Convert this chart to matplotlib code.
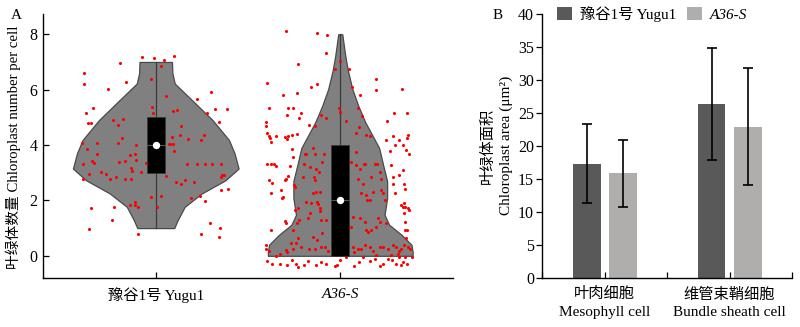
import matplotlib
matplotlib.use("Agg")
import matplotlib.pyplot as plt
from matplotlib.patches import Rectangle

plt.rcParams['font.family'] = ['Liberation Serif', 'Noto Sans CJK SC']
plt.rcParams['font.size'] = 10.5

# ---------------- Panel A: chloroplast number per cell ----------------
genotypes = ['豫谷1号 Yugu1', 'A36-S']

# individual cells (jitter offset, count)
yugu_x = [-0.076, -0.007, 0.047, 0.099, 0.027, -0.196, -0.391, -0.391, -0.259, -0.160,
          0.301, 0.225, -0.027, 0.056, -0.378, -0.342, -0.368, -0.351, -0.229, -0.175,
          -0.207, -0.022, -0.014, 0.114, 0.095, 0.276, 0.321, 0.386, 0.344, 0.261,
          0.177, 0.247, 0.135, 0.133, 0.086, 0.077, 0.095, 0.099, 0.070, -0.400,
          -0.371, -0.317, -0.346, -0.319, -0.393, -0.333, -0.184, -0.207, -0.106, -0.114,
          -0.137, -0.108, -0.164, -0.133, -0.130, -0.054, -0.079, -0.135, -0.169, -0.214,
          -0.295, -0.267, -0.249, -0.360, -0.396, 0.168, 0.225, 0.265, 0.306, 0.353,
          0.360, 0.353, 0.368, 0.351, 0.393, 0.159, 0.110, 0.054, 0.209, 0.137,
          0.189, 0.238, 0.265, 0.031, -0.025, 0.005, -0.142, -0.115, -0.097, -0.112,
          -0.227, -0.236, -0.350, -0.364, -0.097, 0.247, 0.294, 0.350, 0.342, -0.200]
yugu_y = [7.18, 7.16, 7.06, 7.21, 6.87, 6.98, 6.61, 6.19, 6.03, 6.26,
          5.92, 5.66, 6.37, 5.78, 5.17, 5.35, 4.78, 4.78, 4.90, 4.95,
          4.71, 5.38, 5.14, 5.26, 5.22, 5.14, 5.29, 5.29, 4.83, 4.36,
          4.20, 4.18, 4.68, 4.36, 4.30, 4.02, 4.02, 3.77, 4.03, 4.08,
          3.87, 4.08, 3.42, 3.67, 3.30, 3.36, 4.27, 4.07, 4.01, 3.67,
          3.63, 3.45, 3.42, 3.16, 3.07, 3.35, 3.01, 2.79, 2.77, 2.85,
          3.02, 2.96, 2.78, 2.97, 2.77, 3.33, 3.32, 3.32, 3.32, 3.32,
          2.91, 2.85, 2.90, 2.37, 2.42, 2.73, 2.67, 2.88, 2.68, 2.61,
          2.07, 2.15, 1.99, 2.15, 2.12, 1.77, 1.82, 1.85, 1.77, 1.93,
          1.78, 1.31, 1.71, 0.97, 0.78, 0.78, 1.17, 0.99, 0.69, 3.38]

a36_x = [-0.295, -0.124, -0.070, -0.079, -0.002, -0.229, -0.031, 0.050, -0.395, -0.160,
         -0.126, 0.065, 0.195, 0.195, 0.335, -0.234, -0.310, 0.108, -0.386, -0.281,
         -0.256, -0.286, -0.211, -0.225, -0.009, -0.004, 0.095, 0.119, 0.294, 0.360,
         -0.106, -0.076, 0.252,
         -0.405, -0.400, -0.395, -0.387, -0.382, -0.373, -0.346, -0.297, -0.283, -0.288,
         -0.263, -0.234, -0.169, -0.139, 0.032, 0.099, 0.086, 0.141, 0.159, 0.285,
         0.360, 0.369, 0.249, 0.321, 0.299, 0.342, 0.267,
         -0.395, -0.378, -0.359, -0.346, -0.386, -0.368, -0.263, -0.256, -0.274, -0.283,
         -0.292, -0.299, -0.193, -0.184, -0.148, -0.139, -0.090, -0.099, -0.196, -0.166,
         -0.130, -0.115, -0.141, -0.202, 0.086, 0.059, 0.083, 0.105, 0.128, 0.135,
         0.168, 0.186, 0.200, 0.213, 0.222, 0.276, 0.285, 0.285, 0.321, 0.342,
         0.375, 0.357,
         -0.373, -0.319, -0.310, -0.314, -0.250, -0.247, -0.229, -0.225, -0.184, -0.157,
         -0.148, -0.126, -0.121, -0.112, -0.130, -0.139, -0.108, 0.095, 0.123, 0.114,
         0.141, 0.144, 0.162, 0.177, 0.222, 0.231, 0.240, 0.295, 0.330, 0.339,
         0.353, 0.366, 0.375, 0.344, 0.348, 0.353,
         -0.373, -0.301, -0.295, -0.256, -0.247, -0.232, -0.175, -0.166, -0.112, -0.106,
         -0.097, -0.079, -0.148, 0.068, 0.059, 0.105, 0.132, 0.141, 0.153, 0.164,
         0.195, 0.204, 0.213, 0.249, 0.348, 0.353, 0.353, 0.357, 0.362,
         -0.400, -0.400, -0.386, -0.324, -0.288, -0.256, -0.265, -0.241, -0.229, -0.211,
         -0.169, -0.139, -0.126, -0.103, -0.085, -0.067, 0.068, 0.072, 0.095, 0.114,
         0.132, 0.159, 0.177, 0.213, 0.231, 0.258, 0.285, 0.303, 0.330, 0.348,
         0.366, 0.378, 0.321, -0.292,
         -0.395, -0.368, -0.328, -0.288, -0.259, -0.241, -0.229, -0.198, -0.175, -0.130,
         -0.103, -0.076, -0.031, -0.018, -0.004, 0.072, 0.101, 0.123, 0.162, 0.186,
         0.195, 0.213, 0.231, 0.258, 0.281, 0.303, 0.321, 0.330, 0.339, 0.353,
         0.360, 0.387, 0.276, 0.312, -0.346, 0.032]
a36_y = [8.11, 8.06, 7.98, 7.33, 7.03, 6.94, 6.74, 6.73, 6.25, 6.08,
         6.22, 6.08, 6.37, 5.98, 6.04, 5.88, 5.82, 5.80, 5.34, 5.32,
         5.34, 5.08, 5.16, 4.96, 5.32, 5.20, 5.32, 5.05, 5.14, 5.14,
         5.08, 4.99, 4.86,
         4.84, 4.68, 4.42, 4.32, 4.24, 4.12, 4.32, 4.30, 4.32, 4.20,
         4.36, 4.39, 4.72, 4.68, 4.87, 4.66, 4.42, 4.36, 4.32, 4.32,
         4.27, 4.36, 4.18, 4.18, 4.00, 4.00, 3.79,
         3.30, 3.30, 3.30, 3.24, 2.73, 2.64, 3.87, 3.57, 3.24, 2.88,
         2.79, 2.73, 3.69, 3.67, 3.91, 3.69, 3.69, 3.39, 3.33, 3.21,
         3.15, 3.03, 2.85, 2.83, 3.75, 3.39, 3.27, 3.15, 3.33, 3.31,
         2.83, 3.33, 3.33, 3.03, 2.79, 3.27, 2.85, 2.61, 2.91, 3.09,
         3.69, 3.81,
         2.25, 2.37, 2.13, 2.07, 2.55, 2.49, 1.71, 1.29, 1.93, 1.89,
         2.25, 1.95, 1.87, 1.71, 2.31, 2.73, 2.31, 2.79, 2.61, 2.25,
         2.19, 2.01, 2.01, 2.31, 2.37, 2.25, 2.01, 2.25, 1.83, 1.77,
         1.77, 1.71, 1.65, 1.89, 2.61, 2.43,
         0.93, 1.26, 1.19, 0.93, 1.65, 1.17, 1.35, 1.53, 1.62, 1.29,
         0.81, 1.29, 0.69, 1.41, 1.05, 1.35, 1.23, 0.93, 0.87, 0.93,
         1.05, 1.35, 1.23, 1.19, 1.53, 1.23, 0.93, 0.66, 0.93,
         0.39, 0.26, 0.18, 0.08, 0.12, 0.26, 0.47, 0.45, 0.63, 0.32,
         0.26, 0.26, 0.57, 0.30, 0.30, 0.18, 0.32, 0.14, 0.26, 0.26,
         0.39, 0.30, 0.18, 0.32, 0.30, 0.26, 0.39, 0.32, 0.26, 0.39,
         0.32, 0.23, 0.18, 0.20,
         -0.19, -0.28, -0.30, -0.34, -0.16, -0.28, -0.40, -0.34, -0.18, -0.34,
         -0.22, -0.30, -0.36, -0.34, -0.16, -0.36, -0.22, -0.06, -0.18, -0.10,
         0.02, -0.36, -0.28, -0.10, -0.16, -0.28, -0.04, -0.34, -0.22, -0.04,
         -0.28, -0.06, 0.02, 0.08, -0.01, -0.04]

# box statistics: minimum, lower quartile, median, upper quartile, maximum
yugu_stats = [1, 3, 4, 5, 7]
a36_stats = [0, 0, 2, 4, 8]

# kernel density outline (count level, half width)
yugu_levels = [1.0, 1.29, 1.77, 2.25, 2.73, 3.15, 3.7, 4.18, 4.9, 5.32, 5.74, 6.22, 6.6, 7.0]
yugu_half = [0.100, 0.119, 0.157, 0.249, 0.378, 0.449, 0.427, 0.397, 0.308, 0.243,
             0.178, 0.103, 0.090, 0.088]
a36_levels = [0.0, 0.15, 0.40, 0.76, 1.12, 1.48, 2.08, 2.7, 3.29, 3.89, 4.3, 4.83,
              5.43, 6.03, 6.7, 7.23, 8.0]
a36_half = [0.392, 0.392, 0.386, 0.332, 0.265, 0.240, 0.254, 0.254, 0.232, 0.211,
            0.178, 0.135, 0.097, 0.065, 0.041, 0.027, 0.011]

# ---------------- Panel B: chloroplast area ----------------
cell_types = ['叶肉细胞\nMesophyll cell', '维管束鞘细胞\nBundle sheath cell']
yugu_area = [17.3, 26.4]
yugu_err = [5.95, 8.5]
a36_area = [15.85, 22.9]
a36_err = [5.1, 8.9]

fig = plt.figure(figsize=(8.0, 3.27), dpi=100)
axA = fig.add_axes([0.054, 0.150, 0.512, 0.807])
axB = fig.add_axes([0.678, 0.151, 0.312, 0.806])

violin_face = '#808080'
violin_edge = '#4a4a4a'
series = [(yugu_levels, yugu_half, yugu_x, yugu_y, yugu_stats),
          (a36_levels, a36_half, a36_x, a36_y, a36_stats)]
for pos, (lev, half, px, py, st) in enumerate(series):
    left = [pos - h for h in half]
    right = [pos + h for h in half]
    axA.fill_betweenx(lev, left, right, facecolor=violin_face, edgecolor=violin_edge,
                      linewidth=0.9, zorder=1)
    axA.plot([pos, pos], [st[0], st[4]], color='#3a3a3a', lw=0.9, zorder=2)
    axA.scatter([pos + v for v in px], py, s=5, color='#ff0000', linewidths=0, zorder=3)
    axA.add_patch(Rectangle((pos - 0.049, st[1]), 0.098, st[3] - st[1],
                            facecolor='black', edgecolor='#3a3a3a', lw=0.6, zorder=4))
    axA.plot([pos - 0.049, pos + 0.049], [st[2], st[2]], color='#555555', lw=0.8, zorder=5)
    axA.scatter([pos], [st[2]], s=28, color='white', linewidths=0, zorder=6)

axA.set_xlim(-0.61, 1.61)
axA.set_ylim(-0.8, 8.73)
axA.set_yticks([0, 2, 4, 6, 8])
axA.set_xticks([0, 1])
axA.set_xticklabels(genotypes)
axA.get_xticklabels()[1].set_style('italic')
axA.tick_params(direction='in', length=4, width=0.9, pad=7, labelsize=11)
axA.tick_params(axis='y', pad=4, labelsize=11.5)
for s in ['top', 'right']:
    axA.spines[s].set_visible(False)
for s in ['left', 'bottom']:
    axA.spines[s].set_linewidth(1.0)
axA.set_ylabel('叶绿体数量 Chloroplast number per cell', fontsize=10.6)
axA.yaxis.set_label_coords(-0.053, 0.497)

# grouped bars
off = 0.145
width = 0.222
idx = [0, 1]
axB.bar([i - off for i in idx], yugu_area, width, color='#595959', label='豫谷1号 Yugu1', zorder=2)
axB.bar([i + off for i in idx], a36_area, width, color='#b0adad', label='A36-S', zorder=2)
axB.errorbar([i - off for i in idx], yugu_area, yerr=yugu_err, fmt='none', ecolor='black',
             elinewidth=1.2, capsize=3.5, capthick=1.2, zorder=3)
axB.errorbar([i + off for i in idx], a36_area, yerr=a36_err, fmt='none', ecolor='black',
             elinewidth=1.2, capsize=3.5, capthick=1.2, zorder=3)
axB.set_xlim(-0.5, 1.5)
axB.set_ylim(0, 40)
axB.set_yticks(range(0, 41, 5))
axB.set_xticks([-0.5, 0, 0.5, 1, 1.5])
axB.set_xticklabels(['', cell_types[0], '', cell_types[1], ''], linespacing=1.45)
axB.tick_params(axis='x', direction='in', length=4, width=0.9, pad=7, labelsize=11)
axB.tick_params(axis='y', direction='out', length=4, width=0.9, pad=2, labelsize=11.5)
for s in ['top', 'right']:
    axB.spines[s].set_visible(False)
for s in ['left', 'bottom']:
    axB.spines[s].set_linewidth(1.0)
axB.set_ylabel('叶绿体面积\nChloroplast area (μm²)', fontsize=11, linespacing=1.45, labelpad=4)

leg = axB.legend(loc='center', bbox_to_anchor=(0.44, 1.0), ncol=2, frameon=False,
                 fontsize=11, handlelength=1.0, handleheight=0.9, handletextpad=0.5,
                 columnspacing=0.7, borderaxespad=0, borderpad=0)
leg.get_texts()[1].set_style('italic')

fig.text(0.021, 0.954, 'A', fontsize=11, ha='center', va='center')
fig.text(0.622, 0.954, 'B', fontsize=11, ha='center', va='center')

fig.savefig('out.png', dpi=100)
